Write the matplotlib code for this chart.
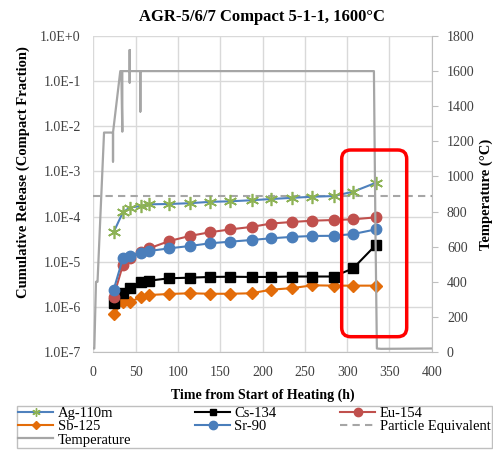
import math
import matplotlib
matplotlib.use('Agg')
import matplotlib.pyplot as plt
from matplotlib.ticker import FixedLocator, FuncFormatter, NullLocator
from matplotlib.patches import FancyBboxPatch
from matplotlib.transforms import IdentityTransform
from matplotlib.lines import Line2D

# ---------------- data ----------------
times = [24, 35, 43, 56, 66, 90, 114, 138, 162, 187, 210, 235, 259, 284, 307, 334]
ag110m = [4.5e-5, 1.25e-4, 1.57e-4, 1.72e-4, 1.87e-4, 1.9e-4, 1.98e-4, 2.12e-4,
          2.18e-4, 2.3e-4, 2.45e-4, 2.6e-4, 2.75e-4, 2.85e-4, 3.55e-4, 5.6e-4]
cs134 = [1.2e-6, 2.06e-6, 2.6e-6, 3.6e-6, 3.8e-6, 4.3e-6, 4.43e-6, 4.6e-6,
         4.65e-6, 4.6e-6, 4.6e-6, 4.7e-6, 4.7e-6, 4.7e-6, 7.1e-6, 2.35e-5]
eu154 = [1.68e-6, 8.5e-6, 1.19e-5, 1.67e-5, 1.98e-5, 2.88e-5, 3.72e-5, 4.5e-5,
         5.2e-5, 5.9e-5, 7.0e-5, 7.6e-5, 8.1e-5, 8.4e-5, 8.7e-5, 9.6e-5]
sb125 = [7.0e-7, 1.25e-6, 1.25e-6, 1.68e-6, 1.83e-6, 1.93e-6, 2.0e-6, 1.95e-6,
         1.95e-6, 2.0e-6, 2.4e-6, 2.6e-6, 3.0e-6, 2.95e-6, 2.95e-6, 2.95e-6]
sr90 = [2.37e-6, 1.19e-5, 1.34e-5, 1.59e-5, 1.73e-5, 1.98e-5, 2.23e-5, 2.56e-5,
        2.78e-5, 3.03e-5, 3.3e-5, 3.55e-5, 3.72e-5, 3.75e-5, 4.1e-5, 5.2e-5]
particle_equivalent = 2.9e-4
pe_span = [0, 400]

temp_time = [0.5, 1.2, 3.2, 5, 12.7, 23.3, 23.3, 23.3, 31.9, 33.1, 34.3, 34.3,
             43, 43, 43, 43, 55.6, 55.6, 55.6, 331.7, 333.5, 335.2, 340, 400]
temp_c = [20, 20, 400, 400, 1250, 1250, 1085, 1250, 1600, 1600, 1255, 1600,
          1600, 1720, 1535, 1600, 1600, 1370, 1600, 1600, 700, 20, 18, 20]

x_ticks = [0, 50, 100, 150, 200, 250, 300, 350, 400]
y_ticks = [1e-7, 1e-6, 1e-5, 1e-4, 1e-3, 1e-2, 1e-1, 1e0]
t_ticks = [0, 200, 400, 600, 800, 1000, 1200, 1400, 1600, 1800]

title = 'AGR-5/6/7 Compact 5-1-1, 1600°C'

# ---------------- style ----------------
SERIF = ['Liberation Serif', 'DejaVu Serif']
plt.rcParams['font.family'] = SERIF

W, H = 493, 451
fig = plt.figure(figsize=(W / 100, H / 100), dpi=100)
L, R, T, B = 93.3, 431.7, 36, 352
ax = fig.add_axes([L / W, 1 - B / H, (R - L) / W, (B - T) / H])
ax2 = ax.twinx()

grid_c = '#D9D9D9'
axis_c = '#BFBFBF'
txt_c = '#404040'

ax.set_yscale('log')
ax.set_xlim(0, 400)
ax.set_ylim(1e-7, 1)
ax2.set_ylim(0, 1800)

ax.xaxis.set_major_locator(FixedLocator(x_ticks))
ax.yaxis.set_major_locator(FixedLocator(y_ticks))
ax.yaxis.set_minor_locator(NullLocator())
ax.yaxis.set_major_formatter(FuncFormatter(lambda v, p: '1.0E%+d' % round(math.log10(v))))
ax2.yaxis.set_major_locator(FixedLocator(t_ticks))

ax.grid(True, color=grid_c, lw=1.0)
ax.set_axisbelow(True)
for s in ['top', 'left', 'right']:
    ax.spines[s].set_visible(False)
ax.spines['bottom'].set_color(axis_c)
for s in ['top', 'left', 'bottom']:
    ax2.spines[s].set_visible(False)
ax2.spines['right'].set_color(axis_c)

ax.tick_params(axis='both', length=0, labelsize=10, labelcolor=txt_c)
ax.tick_params(axis='y', pad=9)
ax.tick_params(axis='x', pad=10)
ax2.tick_params(axis='y', length=4, color=axis_c, labelsize=10, labelcolor=txt_c, pad=7)

# ---------------- series ----------------
c_blue = '#4F81BD'
c_sr = '#4A7EBB'
c_green = '#8DB255'
c_red = '#C0504D'
c_orange = '#E36C09'
c_gray = '#A6A6A6'

ax.plot(pe_span, [particle_equivalent] * 2, ls=(0, (3.5, 2.5)), color=c_gray, lw=1.5, zorder=2)
ax.plot(times, sb125, color=c_orange, lw=1.5, marker='D', ms=6, mfc=c_orange, mec=c_orange, zorder=3)
ax.plot(times, cs134, color='black', lw=1.5, marker='s', ms=6.5, mfc='black', mec='black', zorder=3)
ax.plot(times, eu154, color=c_red, lw=1.5, marker='o', ms=7.5, mfc=c_red, mec=c_red, zorder=3)
ax.plot(times, sr90, color=c_sr, lw=1.5, marker='o', ms=7.5, mfc=c_sr, mec=c_sr, zorder=4)
ax.plot(times, ag110m, color=c_blue, lw=1.5, marker=(6, 2, 0), ms=9.5, mec=c_green, mew=1.2, zorder=5)

ax2.plot(temp_time, temp_c, color=c_gray, lw=1.6, zorder=2)

# ---------------- labels ----------------
fig.text(262 / W, 1 - 17 / H, title, ha='center', va='center', fontsize=12, fontweight='bold')
ax.set_xlabel('Time from Start of Heating (h)', fontsize=10, fontweight='bold')
ax.xaxis.set_label_coords(0.5, -(395 - B) / (B - T))
ax.xaxis.label.set_va('center')
ax.set_ylabel('Cumulative Release (Compact Fraction)', fontsize=10.5, fontweight='bold')
ax.yaxis.set_label_coords((23 - L) / (R - L), (B - 172) / (B - T))
ax.yaxis.label.set_va('center')
ax2.set_ylabel('Temperature (°C)', fontsize=10.5, fontweight='bold')
ax2.yaxis.set_label_coords((486 - L) / (R - L), 0.5)
ax2.yaxis.label.set_va('center')

# ---------------- legend ----------------
h_ag = Line2D([], [], color=c_blue, lw=1.5, marker=(6, 2, 0), ms=6, mec=c_green, mew=1)
h_cs = Line2D([], [], color='black', lw=1.5, marker='s', ms=5, mfc='black', mec='black')
h_eu = Line2D([], [], color=c_red, lw=1.5, marker='o', ms=6, mfc=c_red, mec=c_red)
h_sb = Line2D([], [], color=c_orange, lw=1.5, marker='D', ms=4, mfc=c_orange, mec=c_orange)
h_sr = Line2D([], [], color=c_sr, lw=1.5, marker='o', ms=6, mfc=c_sr, mec=c_sr)
h_pe = Line2D([], [], color=c_gray, lw=1.5, ls=(0, (3.5, 2.5)))
h_t = Line2D([], [], color=c_gray, lw=1.6)
handles = [h_ag, h_sb, h_t, h_cs, h_sr, h_eu, h_pe]
labels = ['Ag-110m', 'Sb-125', 'Temperature', 'Cs-134', 'Sr-90', 'Eu-154', 'Particle Equivalent']
leg = fig.legend(handles, labels, ncol=3, loc='upper left', mode='expand',
                 bbox_to_anchor=(17 / W, 1 - 450 / H, 475 / W, 44.5 / H),
                 fontsize=10.5, frameon=True, fancybox=False, edgecolor=axis_c,
                 framealpha=1, borderpad=0.1, labelspacing=0.0, handlelength=2.4,
                 handletextpad=0.3, columnspacing=1.0, borderaxespad=0)
leg.get_frame().set_linewidth(1.0)

# ---------------- red annotation box ----------------
x0, y0, x1, y1 = 341.7, 150, 406.7, 336.7
box = FancyBboxPatch((x0, H - y1), x1 - x0, y1 - y0,
                     boxstyle='round,pad=0,rounding_size=9',
                     transform=IdentityTransform(), fill=False,
                     edgecolor='#FF0000', lw=2.5, zorder=10)
fig.add_artist(box)

fig.savefig('out.png', dpi=100)
